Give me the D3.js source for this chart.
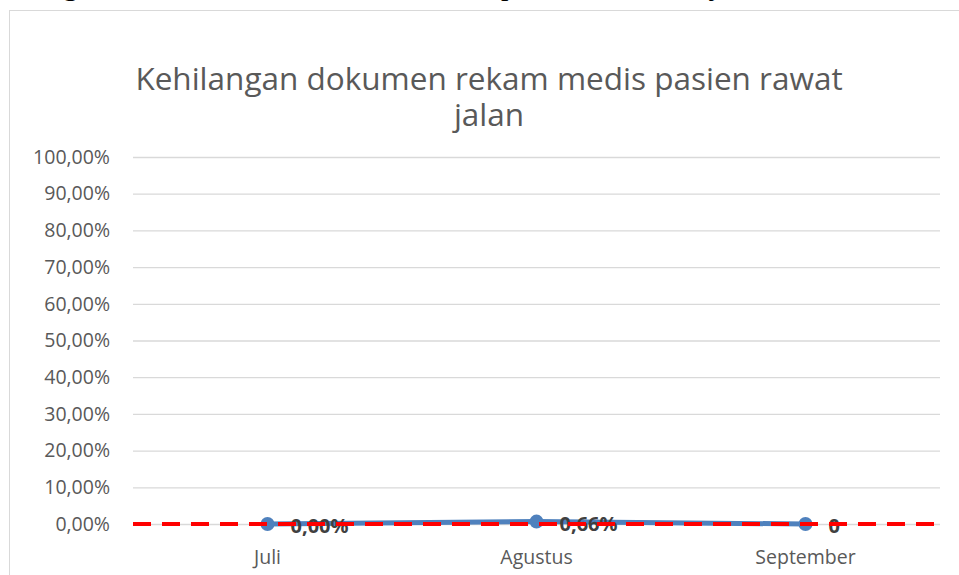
<!DOCTYPE html>
<html>
<head>
<meta charset="utf-8">
<script src="https://cdn.jsdelivr.net/npm/d3@7"></script>
<style>
  html, body { margin: 0; padding: 0; background: #fff; }
  svg { display: block; }
</style>
</head>
<body>
<script>
// --- data ---
const months = ["Juli", "Agustus", "September"];
const values = [0, 0.0066, 0];
const valueLabels = ["0,00%", "0,66%", "0"];
const yTicks = [0, 0.1, 0.2, 0.3, 0.4, 0.5, 0.6, 0.7, 0.8, 0.9, 1.0];
const standard = 0;

const W = 959, H = 575;
const plot = { left: 133, width: 807, top: 157, bottom: 524 };
const fmt = d => d3.format(".2f")(d * 100).replace(".", ",") + "%";
const font = "'Open Sans', sans-serif";

const svg = d3.select("body").append("svg")
  .attr("width", W)
  .attr("height", H);

// descenders of the document line above the chart
const docLine = svg.append("g")
  .attr("font-family", "'Liberation Serif', serif")
  .attr("font-size", 30)
  .attr("fill", "#000");
[["g", 63], ["p", 501], ["j", 710]].forEach(([c, x]) =>
  docLine.append("text").attr("x", x).attr("y", -5).text(c));

// chart area border
svg.append("rect")
  .attr("x", 9.5).attr("y", 10.5)
  .attr("width", W + 20).attr("height", H + 20)
  .attr("fill", "#fff")
  .attr("stroke", "#d9d9d9")
  .attr("stroke-width", 1);

// title
const title = svg.append("text")
  .attr("text-anchor", "middle")
  .attr("font-family", font)
  .attr("font-size", 31.5)
  .attr("fill", "#595959");
title.append("tspan").attr("x", 489).attr("y", 90).text("Kehilangan dokumen rekam medis pasien rawat");
title.append("tspan").attr("x", 489).attr("y", 126).text("jalan");

const x = d3.scaleBand()
  .domain(months)
  .range([plot.left, plot.left + plot.width]);

const y = d3.scaleLinear()
  .domain([0, 1])
  .range([plot.bottom, plot.top]);

// gridlines + y labels
svg.append("g")
  .attr("transform", `translate(${plot.left},0)`)
  .call(d3.axisLeft(y).tickValues(yTicks).tickSize(-plot.width).tickFormat(fmt))
  .call(ax => ax.select(".domain").remove())
  .call(ax => ax.selectAll(".tick line").attr("stroke", "#d9d9d9").attr("stroke-width", 1.3))
  .call(ax => ax.selectAll(".tick text")
    .attr("x", -23)
    .attr("font-family", font)
    .attr("font-size", 19.5)
    .attr("fill", "#595959"));

// x labels
svg.append("g")
  .attr("transform", `translate(0,${plot.bottom})`)
  .call(d3.axisBottom(x).tickSize(0).tickPadding(26))
  .call(ax => ax.select(".domain").remove())
  .call(ax => ax.selectAll(".tick text")
    .attr("font-family", font)
    .attr("font-size", 19.5)
    .attr("fill", "#595959"));

const cx = d => x(d) + x.bandwidth() / 2;
const pts = months.map((m, i) => ({ m, v: values[i], label: valueLabels[i] }));

// series line
svg.append("path")
  .datum(pts)
  .attr("fill", "none")
  .attr("stroke", "#4f81bd")
  .attr("stroke-width", 5)
  .attr("stroke-linejoin", "round")
  .attr("d", d3.line().x(d => cx(d.m)).y(d => y(d.v)));

svg.selectAll("circle.pt")
  .data(pts)
  .join("circle")
  .attr("class", "pt")
  .attr("cx", d => cx(d.m))
  .attr("cy", d => y(d.v))
  .attr("r", 7)
  .attr("fill", "#4f81bd");

// data labels
svg.selectAll("text.lbl")
  .data(pts)
  .join("text")
  .attr("class", "lbl")
  .attr("x", d => cx(d.m) + 23)
  .attr("y", d => y(d.v) + 9)
  .attr("font-family", font)
  .attr("font-size", 20)
  .attr("font-weight", "bold")
  .attr("fill", "#404040")
  .text(d => d.label);

// standard line (red dashed)
svg.append("line")
  .attr("x1", plot.left).attr("x2", plot.left + plot.width)
  .attr("y1", y(standard)).attr("y2", y(standard))
  .attr("stroke", "#ff0000")
  .attr("stroke-width", 4)
  .attr("stroke-dasharray", "18,11");
</script>
</body>
</html>
